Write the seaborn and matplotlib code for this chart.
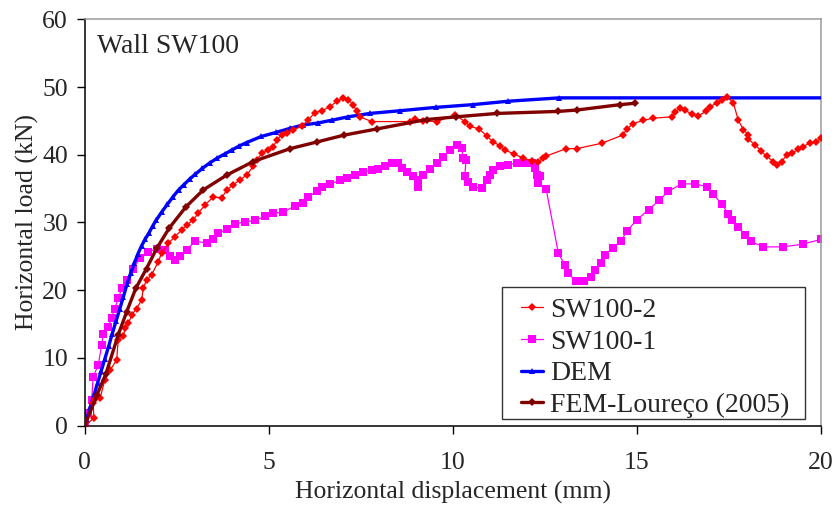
import matplotlib
matplotlib.use("Agg")
import matplotlib.pyplot as plt
from matplotlib.patches import Rectangle
import seaborn as sns
import pandas as pd

# ---------------- data ----------------
sw2_x = [0, 0.25, 0.23, 0.28, 0.42, 0.55, 0.69, 0.87, 0.91, 1.05, 1.10, 1.19, 1.28, 1.41, 1.55,
         1.59, 1.68, 1.82, 2.00, 2.09, 2.27, 2.45, 2.64, 2.77, 2.95, 3.09, 3.27, 3.50, 3.72, 3.86,
         4.04, 4.22, 4.40, 4.58, 4.67, 4.81, 4.99, 5.13, 5.22, 5.35, 5.49, 5.67, 5.90, 6.08, 6.26,
         6.44, 6.67, 6.85, 7.03, 7.16, 7.30, 7.39, 7.48, 7.80, 8.84, 8.97, 9.20, 9.57, 10.06, 10.33,
         10.47, 10.72, 10.92, 11.10, 11.29, 11.42, 11.67, 11.92, 12.15, 12.33, 12.46, 12.54, 13.08,
         13.37, 14.05, 14.62, 14.73, 14.91, 15.18, 15.45, 15.95, 16.04, 16.18, 16.30, 16.50, 16.66,
         16.88, 16.99, 17.17, 17.31, 17.45, 17.63, 17.76, 17.90, 18.03, 18.03, 18.21, 18.39, 18.53,
         18.71, 18.80, 18.94, 19.08, 19.21, 19.39, 19.53, 19.71, 19.87, 20.0]
sw2_y = [0, 1.1, 3.3, 4.0, 4.1, 6.8, 8.2, 9.7, 12.7, 13.2, 14.4, 15.1, 16.4, 17.3, 18.6,
         20.3, 21.5, 22.3, 24.2, 25.5, 26.9, 27.9, 28.9, 29.6, 30.4, 31.4, 32.6, 33.8, 33.6, 34.8,
         35.6, 36.3, 37.0, 38.3, 39.2, 40.2, 40.7, 41.2, 42.2, 42.9, 43.2, 43.7, 44.2, 45.2, 46.2,
         46.5, 47.1, 47.9, 48.4, 48.1, 47.4, 46.4, 45.6, 44.9, 44.9, 45.3, 45.0, 44.9, 45.9, 44.9,
         44.2, 43.8, 42.8, 41.9, 41.3, 40.7, 40.1, 39.5, 39.1, 39.0, 39.5, 39.8, 40.9,
         40.9, 41.7, 42.9, 43.8, 44.6, 45.1, 45.4, 45.6, 46.3, 46.9, 46.6, 46.0, 45.7,
         46.4, 47.1, 47.6, 48.1, 48.6, 47.6, 45.1, 43.7, 42.9, 42.3, 41.5, 40.5, 39.8,
         39.0, 38.5, 39.0, 40.0, 40.2, 40.8, 41.2, 41.8, 41.9, 42.4]

sw1_x = [0, 0.10, 0.19, 0.23, 0.37, 0.46, 0.51, 0.64, 0.73, 0.82, 0.91, 1.01, 1.14, 1.32, 1.50,
         1.73, 1.96, 2.18, 2.32, 2.45, 2.59, 2.77, 3.00, 3.32, 3.49, 3.63, 3.86, 4.08, 4.36, 4.63,
         4.90, 5.13, 5.40, 5.72, 5.94, 6.08, 6.30, 6.44, 6.67, 6.94, 7.12, 7.35, 7.57, 7.80, 7.98,
         8.16, 8.34, 8.52, 8.61, 8.75, 8.91, 9.07, 9.07, 9.20, 9.38, 9.57, 9.73, 9.93, 10.13, 10.24,
         10.29, 10.36, 10.33, 10.42, 10.56, 10.79, 10.92, 11.01, 11.10, 11.29, 11.51, 11.74, 11.96,
         12.15, 12.24, 12.28, 12.37, 12.33, 12.54, 12.87, 13.05, 13.14, 13.35, 13.57, 13.75, 13.87,
         14.02, 14.14, 14.35, 14.57, 14.75, 15.00, 15.33, 15.61, 15.86, 16.22, 16.58, 16.90, 17.08,
         17.31, 17.49, 17.58, 17.76, 17.94, 18.10, 18.44, 18.98, 19.51, 20.0]
sw1_y = [0, 1.8, 3.8, 7.2, 9.0, 11.9, 13.6, 14.6, 15.9, 17.3, 18.8, 20.3, 21.5, 23.2, 24.7,
         25.7, 26.1, 26.0, 25.0, 24.5, 25.0, 26.0, 27.2, 27.0, 27.5, 28.4, 29.0, 29.8, 30.1, 30.3,
         30.9, 31.4, 31.5, 32.5, 32.9, 33.8, 34.6, 35.2, 35.7, 36.2, 36.5, 37.0, 37.4, 37.8, 37.9,
         38.3, 38.8, 38.8, 38.0, 37.4, 36.8, 36.3, 35.3, 37.0, 37.9, 38.8, 39.7, 40.7, 41.5, 41.0,
         39.5, 39.2, 36.8, 36.0, 35.2, 35.1, 36.3, 37.0, 37.8, 38.4, 38.5, 38.8, 38.8,
         38.8, 38.0, 37.0, 36.8, 35.9, 34.9, 25.5, 23.7, 22.5, 21.3, 21.3, 22.0, 23.0,
         24.0, 25.2, 26.2, 27.3, 28.8, 30.4, 31.9, 33.3, 34.6, 35.7, 35.7, 35.3, 34.2,
         32.7, 31.3, 30.4, 29.3, 28.2, 27.2, 26.4, 26.4, 26.8, 27.5]

dem_x = [0, 0.05, 0.15, 0.25, 0.35, 0.45, 0.55, 0.65, 0.75, 0.85, 0.95, 1.05, 1.15, 1.25, 1.35,
         1.45, 1.55, 1.65, 1.75, 1.85, 1.95, 2.10, 2.25, 2.40, 2.55, 2.70, 2.85, 3.00, 3.20, 3.40,
         3.60, 3.80, 4.00, 4.20, 4.40, 4.80, 5.20, 5.58, 5.94, 6.35, 6.71, 7.16, 7.75, 8.57, 9.55,
         10.55, 11.50, 12.90, 20.0]
dem_y = [0, 0.9, 2.7, 4.5, 6.3, 8.1, 9.9, 11.7, 13.6, 15.4, 17.2, 19.0, 20.9, 22.5, 24.0,
         25.4, 26.6, 27.6, 28.5, 29.5, 30.4, 31.6, 32.7, 33.8, 34.8, 35.6, 36.4, 37.1, 38.0, 38.8,
         39.5, 40.1, 40.7, 41.3, 41.8, 42.7, 43.3, 43.9, 44.4, 44.7, 45.1, 45.6, 46.1, 46.5, 47.0,
         47.4, 47.9, 48.4, 48.4]

fem_x = [0, 0.33, 0.58, 0.91, 1.14, 1.39, 1.68, 1.96, 2.30, 2.75, 3.22, 3.86, 4.58, 5.58, 6.32,
         7.05, 7.93, 9.29, 10.10, 11.20, 12.87, 13.37, 14.55, 14.95]
fem_y = [0, 4.5, 7.7, 13.4, 16.8, 20.3, 23.2, 26.2, 29.2, 32.3, 34.8, 37.0, 39.0, 40.9, 41.9,
         42.9, 43.8, 45.2, 45.6, 46.1, 46.4, 46.6, 47.4, 47.6]

x_ticks = [0, 5, 10, 15, 20]
y_ticks = [0, 10, 20, 30, 40, 50, 60]

# ---------------- style ----------------
sns.set_theme(style="white")
plt.rcParams['font.family'] = ['Liberation Serif', 'DejaVu Serif']

fig = plt.figure(figsize=(8.36, 5.13), dpi=100)
ax = fig.add_axes([0.1013, 0.1702, 0.8804, 0.7922])

df2 = pd.DataFrame({"x": sw2_x, "y": sw2_y})
df1 = pd.DataFrame({"x": sw1_x, "y": sw1_y})
dfd = pd.DataFrame({"x": dem_x, "y": dem_y})
dff = pd.DataFrame({"x": fem_x, "y": fem_y})

sns.lineplot(data=df2, x="x", y="y", ax=ax, sort=False, estimator=None, color="#FF0000",
             lw=0.9, marker="D", markersize=4.2, markeredgewidth=0, label="SW100-2", zorder=4)
sns.lineplot(data=df1, x="x", y="y", ax=ax, sort=False, estimator=None, color="#FF00FF",
             lw=0.9, marker="s", markersize=5.2, markeredgewidth=0, label="SW100-1", zorder=2)
sns.lineplot(data=dfd, x="x", y="y", ax=ax, sort=False, estimator=None, color="#0000FF",
             lw=2.4, marker="^", markersize=5, markeredgewidth=0,
             markevery=list(range(len(dem_x) - 1)), label="DEM", zorder=3)
sns.lineplot(data=dff, x="x", y="y", ax=ax, sort=False, estimator=None, color="#800000",
             lw=2.4, marker="D", markersize=3.6, markeredgewidth=0, label="FEM-Loureço (2005)",
             zorder=5)

ax.set_xlim(0, 20)
ax.set_ylim(0, 60)
ax.set_xticks(x_ticks)
ax.set_yticks(y_ticks)
ax.tick_params(axis='both', which='major', direction='out', length=6, width=1,
               color='black', labelsize=18.5, pad=6, bottom=True, left=True)
ax.tick_params(axis='x', pad=13)

for s in ['left', 'bottom']:
    ax.spines[s].set_color('black')
    ax.spines[s].set_linewidth(1.1)
for s in ['top', 'right']:
    ax.spines[s].set_color('#9a9a9a')
    ax.spines[s].set_linewidth(1.1)

ax.set_xlabel("Horizontal displacement (mm)", fontsize=18.5, labelpad=5)
ax.set_ylabel("Horizontal load (kN)", fontsize=18.5, labelpad=2)

ax.text(0.0167, 0.932, "Wall SW100", transform=ax.transAxes, fontsize=20,
        ha='left', va='center')

# legend frame drawn as a plain rectangle, legend entries placed inside it
frame = Rectangle((0.567, 0.016), 0.412, 0.325, transform=ax.transAxes,
                  facecolor='white', edgecolor='#333333', linewidth=1.0, zorder=9)
ax.add_patch(frame)
leg = ax.legend(loc='upper left', bbox_to_anchor=(0.593, 0.315), borderaxespad=0,
                fontsize=20, frameon=False, handlelength=0.8,
                handletextpad=0.25, labelspacing=0.22, borderpad=0)
leg.set_zorder(10)

fig.savefig("out.png", dpi=100)
